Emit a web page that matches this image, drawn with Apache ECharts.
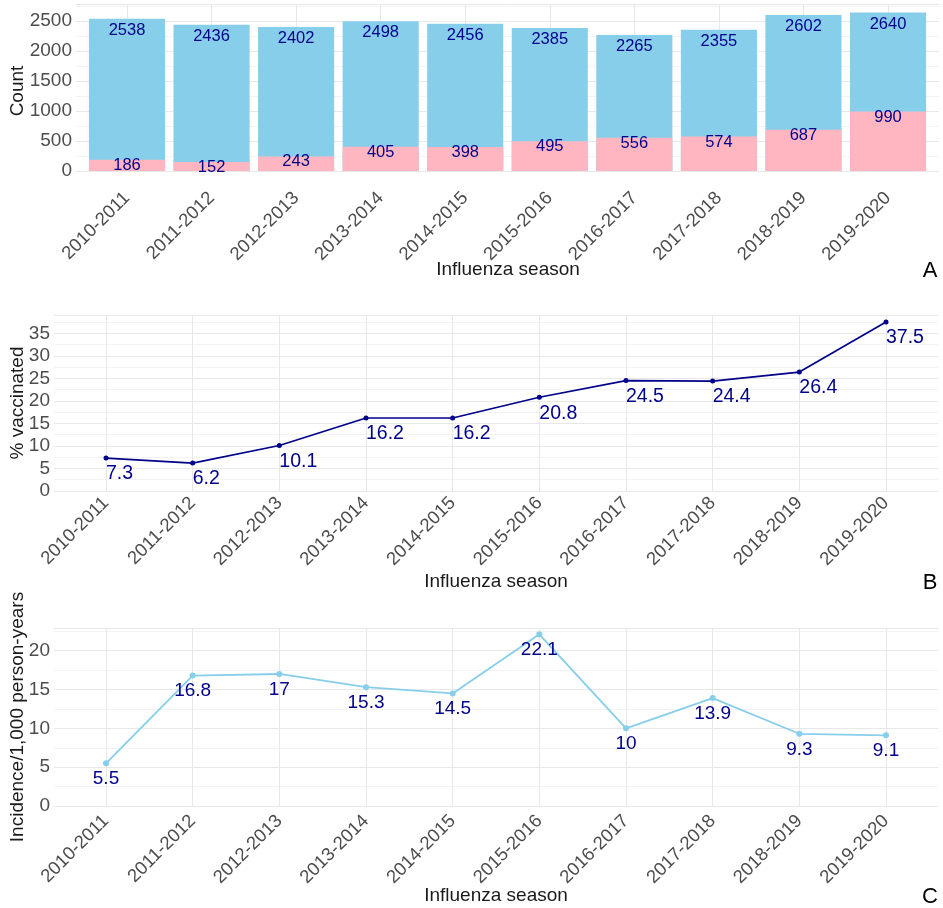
<!DOCTYPE html>
<html>
<head>
<meta charset="utf-8">
<script src="https://cdn.jsdelivr.net/npm/echarts@6/dist/echarts.min.js"></script>
<style>
  html, body { margin: 0; padding: 0; background: #ffffff; }
  #chart { width: 943px; height: 908px; }
</style>
</head>
<body>
<div id="chart"></div>
<script>
// Influenza seasons on the category axes
const seasons = ['2010-2011', '2011-2012', '2012-2013', '2013-2014', '2014-2015',
                 '2015-2016', '2016-2017', '2017-2018', '2018-2019', '2019-2020'];
// Panel A: cohort size and number vaccinated per season
const totalCounts = [2538, 2436, 2402, 2498, 2456, 2385, 2265, 2355, 2602, 2640];
const vaccinatedCounts = [186, 152, 243, 405, 398, 495, 556, 574, 687, 990];
// Panel B: share vaccinated (%)
const pctVaccinated = [7.3, 6.2, 10.1, 16.2, 16.2, 20.8, 24.5, 24.4, 26.4, 37.5];
// Panel C: incidence per 1,000 person-years
const incidenceRate = [5.5, 16.8, 17, 15.3, 14.5, 22.1, 10, 13.9, 9.3, 9.1];

const FONT = '"Liberation Sans", Arial, Helvetica, sans-serif';
const TICK_COLOR = '#4d4d4d';
const LABEL_COLOR = '#00008B';
const MAJOR_GRID = '#e8e8e8';
const MINOR_GRID = '#f3f3f3';

// value-axis extents (padded above the data like the original plotting theme)
const countMax = 2772;
const pctMax = 39.06;
const incMax = 22.92;

const panelA = { top: 4.7, height: 166.3 };
const panelB = { top: 315, height: 176 };
const panelC = { top: 628, height: 178 };

function frameY(gridIndex, max, interval) {
  return {
    gridIndex, type: 'value', min: 0, max, interval,
    axisLine: { show: false }, axisTick: { show: false },
    axisLabel: { fontSize: 19, color: TICK_COLOR, margin: 4, showMaxLabel: false, fontFamily: FONT,
                 formatter: v => String(v) },
    splitLine: { show: true, lineStyle: { color: MAJOR_GRID, width: 1 } },
    minorTick: { show: false, splitNumber: 2 },
    minorSplitLine: { show: true, lineStyle: { color: MINOR_GRID, width: 1 } }
  };
}
function hiddenY(gridIndex, max) {
  return { gridIndex, type: 'value', min: 0, max, show: false };
}
function hiddenX(gridIndex, boundaryGap) {
  return { gridIndex, type: 'category', data: seasons, boundaryGap, show: false };
}
function seasonX(gridIndex, margin) {
  return {
    gridIndex, type: 'category', data: seasons, boundaryGap: false,
    axisLine: { show: false }, axisTick: { show: false },
    splitLine: { show: true, lineStyle: { color: MAJOR_GRID, width: 1 } },
    axisLabel: { interval: 0, rotate: 45, fontSize: 18.5, color: TICK_COLOR, margin, fontFamily: FONT }
  };
}

function titleText(x, y, text, opts) {
  return Object.assign({
    type: 'text', x, y,
    style: { text, fill: '#1a1a1a', font: '19px ' + FONT, align: 'center', verticalAlign: 'middle' }
  }, opts || {});
}
function tagText(x, y, text) {
  return {
    type: 'text', x, y,
    style: { text, fill: '#000', font: '22px ' + FONT, align: 'center', verticalAlign: 'middle' }
  };
}

const chart = echarts.init(document.getElementById('chart'), null, { renderer: 'canvas' });

chart.setOption({
  animation: false,
  backgroundColor: '#ffffff',
  textStyle: { fontFamily: FONT },
  grid: [
    // Panel A: frame, season ticks, bars
    { left: 76, width: 863, top: panelA.top, height: panelA.height },
    { left: 127, width: 761, top: panelA.top, height: panelA.height },
    { left: 84.7, width: 845.6, top: panelA.top, height: panelA.height },
    // Panel B: frame, points
    { left: 54, width: 884, top: panelB.top, height: panelB.height },
    { left: 106, width: 780, top: panelB.top, height: panelB.height },
    // Panel C: frame, points
    { left: 54, width: 884, top: panelC.top, height: panelC.height },
    { left: 106, width: 780, top: panelC.top, height: panelC.height }
  ],
  xAxis: [
    hiddenX(0, true),
    seasonX(1, 24),
    hiddenX(2, true),
    hiddenX(3, true),
    seasonX(4, 9),
    hiddenX(5, true),
    seasonX(6, 12)
  ],
  yAxis: [
    frameY(0, countMax, 500),
    hiddenY(1, countMax),
    hiddenY(2, countMax),
    frameY(3, pctMax, 5),
    hiddenY(4, pctMax),
    frameY(5, incMax, 5),
    hiddenY(6, incMax)
  ],
  series: [
    {
      name: 'Total', type: 'bar', xAxisIndex: 2, yAxisIndex: 2,
      data: totalCounts, barWidth: '90%', barGap: '-100%',
      itemStyle: { color: '#87CEEB' },
      label: { show: true, position: 'insideTop', distance: 3, fontSize: 16.5, color: LABEL_COLOR }
    },
    {
      name: 'Vaccinated', type: 'bar', xAxisIndex: 2, yAxisIndex: 2,
      data: vaccinatedCounts, barWidth: '90%', barGap: '-100%',
      itemStyle: { color: '#FFB6C1' },
      label: { show: true, position: 'insideTop', distance: 0, offset: [0, -3], fontSize: 16.5, color: LABEL_COLOR }
    },
    {
      name: '% vaccinated', type: 'line', xAxisIndex: 4, yAxisIndex: 4,
      data: pctVaccinated, symbol: 'circle', symbolSize: 5,
      lineStyle: { color: '#00008B', width: 1.7 },
      itemStyle: { color: '#00008B' },
      label: { show: true, position: 'inside', align: 'left', verticalAlign: 'top', offset: [0, 6],
               fontSize: 19.5, color: LABEL_COLOR }
    },
    {
      name: 'Incidence', type: 'line', xAxisIndex: 6, yAxisIndex: 6,
      data: incidenceRate, symbol: 'circle', symbolSize: 6,
      lineStyle: { color: '#87CEEB', width: 1.8 },
      itemStyle: { color: '#87CEEB' },
      label: { show: true, position: 'inside', align: 'center', verticalAlign: 'top', offset: [0, 6],
               fontSize: 19, color: LABEL_COLOR }
    }
  ],
  graphic: [
    titleText(18, 91, 'Count', { rotation: Math.PI / 2 }),
    titleText(508, 270, 'Influenza season'),
    tagText(930, 271, 'A'),
    titleText(18, 403, '% vaccinated', { rotation: Math.PI / 2 }),
    titleText(496, 582, 'Influenza season'),
    tagText(930, 583, 'B'),
    titleText(18, 717, 'Incidence/1,000 person-years', { rotation: Math.PI / 2 }),
    titleText(496, 896, 'Influenza season'),
    tagText(930, 897, 'C')
  ]
});
</script>
</body>
</html>
